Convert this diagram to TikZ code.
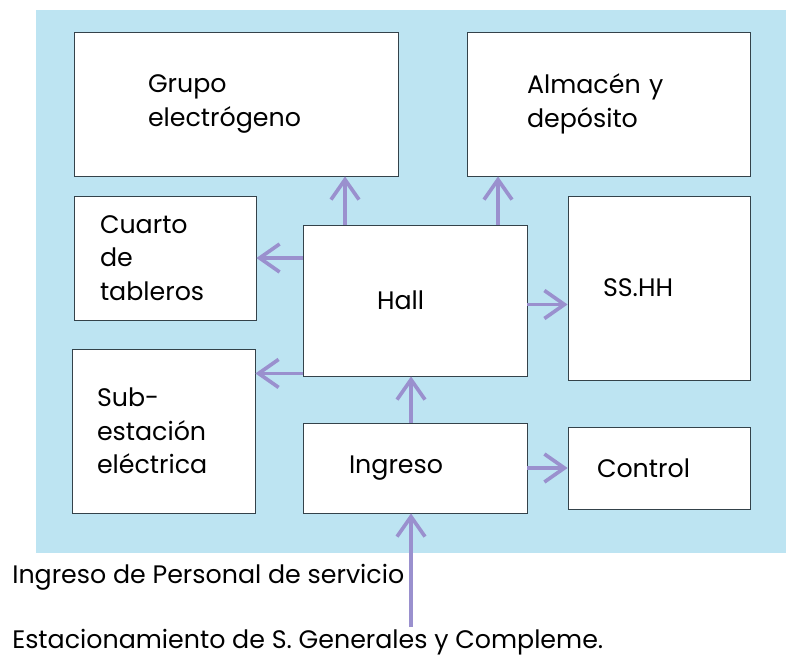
\documentclass[tikz,border=0pt]{standalone}
\usepackage{fontspec}
\setmainfont{Poppins}
\usepackage{tikz}
\usetikzlibrary{arrows.meta,positioning}
\definecolor{planblue}{HTML}{BDE4F2}
\definecolor{flowpurple}{HTML}{9A90CE}
\definecolor{wallgray}{HTML}{34424A}
\tikzset{
  roombox/.style={draw=wallgray,line width=0.6pt,fill=white,align=left,inner sep=0pt,font=\fontsize{18}{24}\selectfont},
  flowarrow/.style={-{Straight Barb[length=5mm,width=7mm]},line width=2.6pt,flowpurple},
  notetext/.style={anchor=west,inner sep=0pt,font=\fontsize{18}{24}\selectfont},
}

\begin{document}
\begin{tikzpicture}
  \useasboundingbox (0,0) rectangle (19.65,-16.475);
  \fill[planblue] (0.9,-0.25) rectangle (19.65,-13.825);
  \node[roombox,minimum width=8.1cm,minimum height=3.6cm,text width=4.4cm] (grupo) at (5.9,-2.6) {Grupo\\electrógeno};
  \node[roombox,minimum width=7.075cm,minimum height=3.6cm,text width=4.075cm] (almacen) at (15.2125,-2.6) {Almacén y\\depósito};
  \node[roombox,minimum width=4.55cm,minimum height=3.1cm,text width=3.25cm] (cuarto) at (4.125,-6.45) {Cuarto\\de\\tableros};
  \node[roombox,minimum width=5.6cm,minimum height=3.775cm,text width=1.9cm] (hall) at (10.375,-7.5125) {Hall};
  \node[roombox,minimum width=4.55cm,minimum height=4.6cm,text width=2.8cm] (sshh) at (16.475,-7.2) {SS.HH};
  \node[roombox,minimum width=4.575cm,minimum height=4.1cm,text width=3.325cm] (subest) at (4.0875,-10.775) {Sub-\\estación\\eléctrica};
  \node[roombox,minimum width=5.6cm,minimum height=2.25cm,text width=3.3cm] (ingreso) at (10.375,-11.7) {Ingreso};
  \node[roombox,minimum width=4.55cm,minimum height=2.05cm,text width=3.1cm] (control) at (16.475,-11.7) {Control};
  \coordinate (ent) at (10.275,-15.675);
  \node[notetext] (lblper) at (0.3,-14.425) {Ingreso de Personal de servicio};
  \node[notetext] (lblest) at (0.3,-16.05) {Estacionamiento de S. Generales y Compleme.};
  \draw[flowarrow] ([xshift=-1.75cm]hall.north) -- ([xshift=-1.75cm]hall.north |- grupo.south);
  \draw[flowarrow] ([xshift=2.075cm]hall.north) -- ([xshift=2.075cm]hall.north |- almacen.south);
  \draw[flowarrow] (hall.west |- cuarto.east) -- (cuarto.east);
  \draw[flowarrow] ([yshift=-0.1cm]hall.east) -- ([yshift=-0.1cm]hall.east -| sshh.west);
  \draw[flowarrow] ([yshift=0.075cm]hall.south west) -- ([yshift=0.075cm]hall.south west -| subest.east);
  \draw[flowarrow] ([xshift=-0.1cm]ingreso.north) -- ([xshift=-0.1cm]hall.south);
  \draw[flowarrow] (ingreso.east) -- (control.west);
  \draw[flowarrow] (ent) -- (ent |- ingreso.south);
\end{tikzpicture}
\end{document}
